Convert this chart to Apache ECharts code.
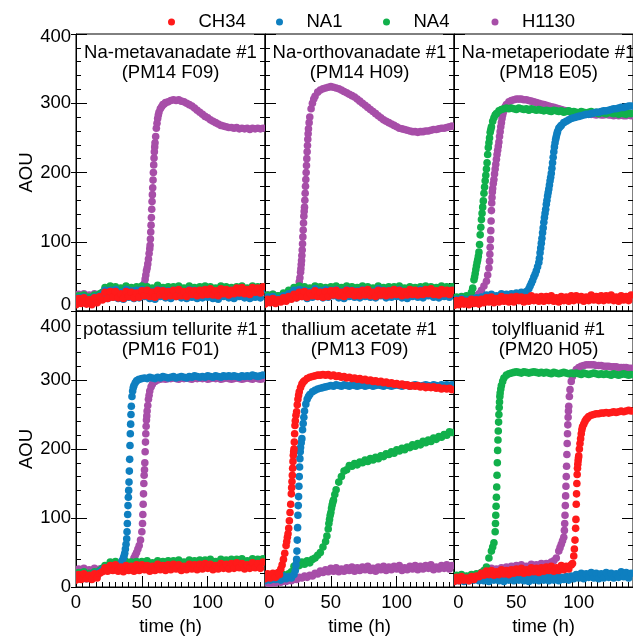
<!DOCTYPE html>
<html>
<head>
<meta charset="utf-8">
<script src="https://cdn.jsdelivr.net/npm/echarts@6/dist/echarts.min.js"></script>
<style>
html, body { margin: 0; padding: 0; background: #fff; }
#chart { width: 633px; height: 637px; }
</style>
</head>
<body>
<div id="chart"></div>
<script>
// Sampling times (h) shared by every curve; steep stretches get extra [t, AOU] readings below.
const hours = [0,2,4,6,8,10,12,14,16,18,20,22,24,26,28,30,32,34,36,38,40,42,44,46,48,50,52,54,56,58,60,62,64,66,68,70,
  72,74,76,78,80,82,84,86,88,90,92,94,96,98,100,102,104,106,108,110,112,114,116,118,120,122,124,126,128,130,132,134,136,138,140,142];

const strainNames = ['CH34', 'NA1', 'NA4', 'H1130'];

// ---- Na-metavanadate #1 (PM14 F09) ----
const metavanadate_CH34 = [9,18,11,19,10,16,9,19,12,21,16,27, 18,28,20,28,19,25,18,28,21,27,19,26,
  20,29,22,30,21,27,20,30,23,29,21,28, 22,30,21,31,22,28,21,30,24,29,22,30,
  23,31,24,32,23,29,22,32,25,31,23,30, 25,33,26,34,25,31,24,34,27,33,26,35];
const metavanadate_NA1 = [10,19,12,20,11,17,10,20,13,22,24,30, 18,30,20,31,18,27,17,31,20,29,18,30,
  19,31,21,30,18,28,17,31,21,30,19,29, 18,30,21,31,19,27,18,31,20,30,18,29,
  19,31,20,30,18,28,17,31,21,30,19,30, 18,31,21,30,19,28,18,31,20,29,19,31];
const metavanadate_NA4 = [14,22,15,23,14,20,13,23,16,25,27,34, 26,36,28,35,27,33,26,36,29,34,27,35,
  27,36,28,35,26,33,27,37,29,34,27,35, 26,35,28,36,27,33,26,36,28,34,27,35,
  27,36,29,35,26,33,27,36,28,35,27,34, 26,35,28,36,27,33,26,36,28,35,27,35];
const metavanadate_H1130 = [18,24,19,25,18,23,19,25,20,24,19,25, 20,26,21,25,20,24,21,26,22,25,21,26,
  24,28,40,62,90,168,243,278,292,298,301,302, 304,305,304,305,303,302,300,298,296,293,290,287,
  284,281,279,276,274,272,270,268,267,266,265,265, 264,265,263,264,263,264,262,264,263,264,263,264];
const metavanadate_H1130_rise = [[51,34],[51.5,38],[52.5,46],[53,52],[53.5,58],[54.5,68],[55,75],[55.5,83],
  [56.25,95],[56.5,104],[56.75,114],[57,124],[57.25,135],[57.5,147],[57.75,158],[58.25,178],[58.5,189],
  [58.75,200],[59,211],[59.25,221],[59.5,230],[59.75,237],[60.5,252],[61,264],[61.5,271],[62.5,283],[63,287],[65,295],[67,299]];

// ---- Na-orthovanadate #1 (PM14 H09) ----
const orthovanadate_CH34 = [10,17,12,18,11,16,13,19,14,21,17,24, 19,27,21,28,20,26,22,29,21,27,20,28,
  21,29,23,30,22,27,21,30,24,29,22,28, 22,30,23,31,22,27,21,30,23,29,22,29,
  23,31,24,30,22,28,23,31,24,30,23,29, 24,31,25,32,24,29,23,31,25,30,24,30];
const orthovanadate_NA1 = [12,20,13,21,12,18,14,22,16,25,22,30, 19,31,21,30,18,28,20,32,21,29,19,31,
  20,30,22,31,19,28,18,31,21,30,20,29, 19,31,21,30,20,28,19,32,22,30,19,30,
  20,30,21,31,19,28,18,30,21,29,20,31, 19,30,22,31,20,28,19,30,21,29,20,30];
const orthovanadate_NA4 = [15,23,16,24,17,22,18,26,22,30,27,34, 27,36,28,35,26,33,27,36,29,35,27,34,
  26,35,28,36,27,34,26,36,28,35,26,34, 27,36,28,35,26,33,27,36,29,34,27,35,
  26,35,28,36,27,33,26,35,28,34,27,35, 27,36,28,35,26,34,27,36,28,35,27,35];
const orthovanadate_H1130 = [17,23,18,24,17,22,18,24,19,23,20,26, 30,42,80,150,230,280,300,310,316,319,321,322,
  323,324,323,322,321,319,317,315,313,311,309,306, 303,300,297,294,291,288,285,282,279,276,274,272,
  270,268,266,264,263,262,261,260,259,259,258,259, 259,260,260,261,262,262,263,264,264,265,266,267];
const orthovanadate_H1130_rise = [[25,34],[26.5,48],[27,56],[27.25,61],[27.5,67],[27.75,73],[28.25,88],[28.5,97],
  [28.75,107],[29,117],[29.25,127],[29.5,137],[29.75,144],[30.25,160],[30.5,170],[30.75,180],[31,190],[31.25,200],
  [31.5,210],[31.75,220],[32.25,239],[32.5,248],[32.75,256],[33,263],[33.5,272],[35,292],[37,306]];

// ---- Na-metaperiodate #1 (PM18 E05) ----
const metaperiodate_CH34 = [8,15,9,16,10,14,9,17,11,16,10,17, 12,19,13,20,12,18,13,21,14,19,13,20,
  13,21,15,20,13,19,14,22,15,20,14,21, 14,21,15,22,14,19,13,21,15,20,14,22,
  15,22,16,21,14,20,15,23,16,21,15,22, 15,22,16,23,15,20,14,22,16,21,15,23];
const metaperiodate_NA1 = [12,17,13,18,12,16,13,18,14,19,15,20, 17,23,18,24,17,22,18,25,19,24,18,25,
  20,26,21,27,22,28,32,40,49,58,70,98, 128,154,176,199,230,252,264,268,272,274,276,278,
  279,280,281,282,283,284,284,285,286,287,287,288, 289,289,290,291,292,292,293,294,294,295,296,296];
const metaperiodate_NA1_rise = [[61,36],[63,44],[65,53],[67,64],[68.5,76],[69,84],[69.5,91],[70.5,105],[71,113],
  [71.5,120],[72.5,135],[73,141],[73.5,147],[74.5,160],[75,166],[75.5,171],[76.5,182],[77,188],[77.5,193],
  [78.5,206],[79,214],[79.5,222],[80.5,237],[81,243],[81.5,248],[82.5,256],[83,259],[85,266]];
const metaperiodate_NA4 = [14,20,15,21,16,22,20,27,45,65,85,132, 170,205,243,266,279,285,289,291,292,293,292,293,
  292,291,293,292,291,292,290,292,291,290,291,290, 289,290,289,288,290,289,288,289,287,288,289,287,
  288,287,286,288,287,286,287,288,286,287,285,287, 286,285,287,286,285,286,284,286,285,284,286,285];
const metaperiodate_NA4_rise = [[15,33],[16.5,49],[17,54],[17.5,60],[18.5,70],[19,74],[19.5,79],[20.5,96],[21,110],
  [21.5,121],[22.5,141],[23,150],[23.5,159],[24.5,179],[25,188],[25.5,196],[26.5,214],[27,226],[27.5,236],
  [28.5,250],[29,258],[29.5,262],[31,274],[33,283]];
const metaperiodate_H1130 = [12,18,13,19,14,18,15,20,18,22,25,30, 36,43,62,145,190,219,244,272,290,298,302,304,
  305,306,306,306,305,305,304,303,302,301,300,299, 298,297,296,295,294,293,292,291,290,289,288,287,
  287,286,286,285,285,284,285,284,284,283,284,283, 283,284,283,283,282,283,282,283,282,282,283,282];
const metaperiodate_H1130_rise = [[27,52],[28.5,72],[28.75,82],[29,92],[29.25,103],[29.5,116],[29.75,130],[30.25,156],
  [30.5,164],[30.75,172],[31,177],[31.5,184],[32.5,198],[33,205],[33.5,212],[34.5,226],[35,232],[35.5,238],
  [36.5,252],[37,259],[37.5,266],[38.5,278],[39,283],[39.5,287],[41,295]];

// ---- potassium tellurite #1 (PM16 F01) ----
const tellurite_CH34 = [10,18,11,19,12,17,11,19,13,20,22,28, 23,31,24,32,23,29,22,31,24,30,23,32,
  24,32,25,31,23,30,24,33,25,31,24,32, 25,33,26,32,24,30,25,33,26,32,25,33,
  26,34,27,33,25,31,26,34,27,33,26,34, 27,35,28,34,26,32,27,35,28,34,27,36];
const tellurite_NA1 = [12,18,13,19,12,17,14,20,16,22,25,28, 26,30,27,31,28,34,42,62,140,262,292,299,
  301,302,303,302,304,303,302,304,303,305,304,303, 304,305,303,304,305,304,303,305,304,306,305,304,
  305,304,306,305,304,306,305,304,306,305,306,305, 306,305,304,306,305,306,305,307,306,305,306,307];
const tellurite_NA1_rise = [[35,38],[36.5,45],[37,49],[37.5,55],[38.5,70],[38.75,80],[39,92],[39.25,105],[39.5,118],
  [39.75,130],[40.25,152],[40.5,168],[40.75,185],[41,205],[41.25,222],[41.5,236],[41.75,250],[42.5,276],
  [43,284],[43.5,289],[45,296],[47,300]];
const tellurite_NA4 = [14,21,15,22,14,20,15,22,17,24,27,31, 28,36,29,37,28,34,29,37,30,36,29,37,
  30,37,31,38,30,35,31,38,32,37,30,38, 31,38,32,39,31,36,32,39,33,38,31,39,
  32,39,33,40,32,37,33,40,34,39,32,40, 33,40,34,41,33,38,34,41,35,40,33,41];
const tellurite_H1130 = [20,26,21,27,20,25,21,27,22,26,25,29, 27,32,28,33,29,32,30,34,33,36,42,50,
  60,80,170,255,284,294,298,300,301,302,301,302, 302,303,302,301,303,302,303,302,301,303,302,303,
  302,303,301,302,303,302,303,301,302,303,302,301, 302,303,302,301,302,303,302,301,303,302,301,302];
const tellurite_H1130_rise = [[45,46],[47,55],[49,68],[50.5,92],[50.75,105],[51,120],[51.25,135],[51.5,150],
  [51.75,162],[52.25,180],[52.5,196],[52.75,210],[53,222],[53.25,233],[53.5,242],[53.75,248],[54.5,263],
  [55,272],[55.5,278],[57,290]];

// ---- thallium acetate #1 (PM13 F09) ----
const thallium_CH34 = [12,19,13,20,14,21,26,40,60,85,135,200, 254,283,294,299,302,304,305,306,307,307,308,307,
  308,306,307,305,306,304,305,303,304,302,303,301, 302,300,301,299,300,298,299,297,298,296,297,295,
  296,294,295,293,294,292,293,291,292,291,292,290, 291,289,290,289,290,288,289,287,288,287,288,286];
const thallium_CH34_rise = [[11,18],[13,32],[15,49],[16.5,66],[17,72],[17.5,77],[18.5,96],[19,108],[19.5,120],
  [20.25,144],[20.5,153],[20.75,162],[21,172],[21.25,182],[21.5,191],[21.75,196],[22.25,210],[22.5,222],
  [22.75,234],[23,241],[23.5,249],[24.5,264],[25,272],[25.5,278],[27,289],[29,297]];
const thallium_NA1 = [9,15,10,16,11,14,10,16,12,15,13,18, 40,160,215,255,272,279,283,285,287,288,289,290,
  291,292,291,293,292,291,293,292,291,293,292,291, 292,293,291,292,293,291,292,293,292,291,293,292,
  291,292,293,292,291,293,292,291,292,293,292,291, 292,293,292,291,293,292,291,293,292,293,292,293];
const thallium_NA1_rise = [[23,24],[23.5,32],[24.25,52],[24.5,68],[24.75,86],[25,104],[25.25,118],[25.5,131],
  [25.75,146],[26.25,174],[26.5,186],[26.75,196],[27,202],[27.5,209],[28.5,228],[29,237],[29.5,246],[31,265],[33,276]];
const thallium_NA4 = [12,17,13,18,12,16,14,18,15,19,22,30, 34,31,36,33,38,35,40,42,46,50,58,66,
  84,108,126,141,152,160,168,170,176,175,179,177, 181,180,184,182,186,184,188,186,190,189,193,192,
  196,194,199,197,201,199,203,202,206,204,208,206, 211,209,213,211,216,214,218,217,221,220,225,224];
const thallium_NA4_rise = [[47,74],[48.5,92],[49,98],[49.5,104],[50.5,114],[51,119],[51.5,123],[53,134]];
const thallium_H1130 = [6,10,5,9,6,10,7,11,8,11,9,12, 11,14,13,16,14,17,16,20,19,23,21,25,
  22,27,23,28,22,26,23,28,24,29,23,28, 24,29,25,30,24,27,23,29,25,30,24,29,
  25,30,26,31,24,28,25,30,26,31,25,30, 26,31,27,32,25,29,26,31,27,32,26,31];

// ---- tolylfluanid #1 (PM20 H05) ----
const tolylfluanid_CH34 = [8,14,9,15,10,13,9,15,11,16,15,20, 17,23,18,24,17,22,18,25,19,24,18,25,
  20,26,21,27,20,25,21,28,22,27,21,28, 23,29,24,30,23,28,24,31,25,30,26,32,
  45,120,190,222,236,243,247,249,250,251,251,252, 252,253,252,253,254,253,254,255,254,255,256,255];
const tolylfluanid_CH34_rise = [[95,34],[96.5,55],[97,68],[97.5,85],[97.75,98],[98.25,135],[98.5,150],[98.75,163],
  [99,172],[99.25,178],[99.5,183],[99.75,187],[100.5,200],[101,208],[101.5,215],[102.5,228],[103,232],[105,240],[107,245]];
const tolylfluanid_NA1 = [8,13,9,14,8,12,9,14,10,13,9,14, 9,14,8,13,10,15,9,13,8,14,10,15,
  9,14,10,15,9,13,8,14,10,15,9,14, 10,15,9,14,10,16,9,14,11,15,10,16,
  12,18,13,20,12,19,14,21,13,20,12,19, 13,21,14,20,13,19,14,22,15,21,13,20];
const tolylfluanid_NA4 = [12,17,13,18,12,16,14,18,15,19,17,21, 24,29,42,52,64,130,250,292,303,307,309,310,
  311,312,311,310,312,311,310,311,312,311,310,311, 310,311,310,309,311,310,309,310,311,310,309,310,
  309,310,309,308,310,309,308,309,310,309,308,309, 308,309,308,307,309,308,307,308,309,308,307,308];
const tolylfluanid_NA4_rise = [[31,58],[33,80],[33.25,92],[33.5,104],[33.75,117],[34.25,145],[34.5,162],[34.75,180],
  [35,198],[35.25,213],[35.5,226],[35.75,239],[36.25,260],[36.5,268],[36.75,276],[37,281],[37.5,287],[39,298]];
const tolylfluanid_H1130 = [10,15,11,16,12,15,13,17,14,18,17,21, 20,26,21,27,22,26,23,28,24,29,25,30,
  26,31,27,32,26,30,27,33,28,32,28,34, 29,34,31,36,38,42,52,62,72,160,262,298,
  310,315,318,320,321,322,322,322,322,321,321,321, 320,320,320,319,319,319,318,318,318,318,317,317];
const tolylfluanid_H1130_rise = [[85,57],[87,67],[88.5,82],[88.75,92],[89,104],[89.25,118],[89.5,132],[89.75,146],
  [90.25,175],[90.5,192],[90.75,208],[91,222],[91.25,235],[91.5,246],[91.75,255],[92.5,276],[93,286],[95,305]];

const panelTitles = [
  ['Na-metavanadate #1', '(PM14 F09)'],
  ['Na-orthovanadate #1', '(PM14 H09)'],
  ['Na-metaperiodate #1', '(PM18 E05)'],
  ['potassium tellurite #1', '(PM16 F01)'],
  ['thallium acetate #1', '(PM13 F09)'],
  ['tolylfluanid #1', '(PM20 H05)']
];

const panelCurves = [
  { CH34: [metavanadate_CH34], NA1: [metavanadate_NA1], NA4: [metavanadate_NA4], H1130: [metavanadate_H1130, metavanadate_H1130_rise] },
  { CH34: [orthovanadate_CH34], NA1: [orthovanadate_NA1], NA4: [orthovanadate_NA4], H1130: [orthovanadate_H1130, orthovanadate_H1130_rise] },
  { CH34: [metaperiodate_CH34], NA1: [metaperiodate_NA1, metaperiodate_NA1_rise], NA4: [metaperiodate_NA4, metaperiodate_NA4_rise], H1130: [metaperiodate_H1130, metaperiodate_H1130_rise] },
  { CH34: [tellurite_CH34], NA1: [tellurite_NA1, tellurite_NA1_rise], NA4: [tellurite_NA4], H1130: [tellurite_H1130, tellurite_H1130_rise] },
  { CH34: [thallium_CH34, thallium_CH34_rise], NA1: [thallium_NA1, thallium_NA1_rise], NA4: [thallium_NA4, thallium_NA4_rise], H1130: [thallium_H1130] },
  { CH34: [tolylfluanid_CH34, tolylfluanid_CH34_rise], NA1: [tolylfluanid_NA1], NA4: [tolylfluanid_NA4, tolylfluanid_NA4_rise], H1130: [tolylfluanid_H1130, tolylfluanid_H1130_rise] }
];

const yTicks = [0, 100, 200, 300, 400];
const xTicks = [0, 50, 100];

// ---- styling / layout ----
const FONT = "'Liberation Sans', Arial, Helvetica, sans-serif";
const FS = 18.5;
const colors = { CH34: '#ff1a1a', NA1: '#0e7fc0', NA4: '#11b04b', H1130: '#a74ea8' };
const drawOrder = ['H1130', 'NA4', 'NA1', 'CH34'];
const legendDotX = [171.5, 279.5, 386.5, 495];
const gridLeft = 76, gridW = 189, rowTop = [34, 311], rowH = [277, 276];
const X_MAX = 143.5;
const DOT_R = 3.8;

function toPoints(values, extra) {
  const pts = hours.map((h, i) => [h, values[i]]);
  return extra ? pts.concat(extra) : pts;
}

const grids = [], xAxes = [], yAxes = [], series = [], titles = [];
const black = { color: '#000', width: 1 };

panelTitles.forEach((tt, i) => {
  const col = i % 3, row = Math.floor(i / 3);
  const left = gridLeft + gridW * col;
  grids.push({ left: left, top: rowTop[row], width: gridW, height: rowH[row],
    show: true, borderColor: '#000', borderWidth: 1, backgroundColor: 'transparent' });

  // x: major ticks + labels
  xAxes.push({
    gridIndex: i, type: 'value', min: 0, max: X_MAX, interval: 50, position: 'bottom',
    axisLine: { show: true, onZero: false, lineStyle: black },
    axisTick: { show: true, inside: true, length: 11, lineStyle: black },
    splitLine: { show: false },
    axisLabel: {
      show: row === 1, showMaxLabel: false, margin: 6, color: '#000', fontSize: FS, fontFamily: FONT,
      formatter: v => xTicks.indexOf(v) < 0 ? '' : (v === 0 && col > 0 ? '{sh|0}' : String(v)),
      rich: { sh: { padding: [0, 0, 0, 9], fontSize: FS, fontFamily: FONT, color: '#000' } }
    },
    name: row === 1 ? 'time (h)' : '', nameLocation: 'middle', nameGap: 30,
    nameTextStyle: { color: '#000', fontSize: FS, fontFamily: FONT }
  });
  // x: minor ticks every 5 h
  xAxes.push({
    gridIndex: i, type: 'value', min: 0, max: X_MAX, interval: 5, position: 'bottom',
    axisLine: { show: false, onZero: false }, axisLabel: { show: false }, splitLine: { show: false },
    axisTick: { show: true, inside: true, length: 5, lineStyle: black }
  });

  const yBase = { gridIndex: i, type: 'value', min: 0, max: 400, interval: 100, splitLine: { show: false } };
  // y left: inside ticks, labels, title
  yAxes.push(Object.assign({}, yBase, {
    position: 'left',
    axisLine: { show: true, onZero: false, lineStyle: black },
    axisTick: { show: true, inside: true, length: 11, lineStyle: black },
    minorTick: { show: true, splitNumber: 5, length: 5, lineStyle: black },
    axisLabel: {
      show: col === 0, margin: 5, color: '#000', fontSize: FS, fontFamily: FONT,
      formatter: v => {
        if (yTicks.indexOf(v) < 0) return '';
        if (row === 0 && v === 0) return '{up|0}';
        if (row === 0 && v === 400) return '{dn3|400}';
        if (row === 1 && v === 400) return '{dn16|400}';
        return String(v);
      },
      rich: {
        up: { padding: [0, 0, 12, 0], fontSize: FS, fontFamily: FONT, color: '#000' },
        dn3: { padding: [5, 0, 0, 0], fontSize: FS, fontFamily: FONT, color: '#000' },
        dn16: { padding: [32, 0, 0, 0], fontSize: FS, fontFamily: FONT, color: '#000' }
      }
    },
    name: col === 0 ? 'AOU' : '', nameLocation: 'middle', nameGap: 28,
    nameTextStyle: { color: '#000', fontSize: FS, fontFamily: FONT }
  }));
  // y left: short outward major ticks
  yAxes.push(Object.assign({}, yBase, {
    position: 'left', axisLine: { show: false, onZero: false }, axisLabel: { show: false },
    axisTick: { show: true, inside: false, length: 5, lineStyle: black }
  }));
  // y right: mirrored inside ticks
  yAxes.push(Object.assign({}, yBase, {
    position: 'right', axisLine: { show: false, onZero: false }, axisLabel: { show: false },
    axisTick: { show: true, inside: true, length: 11, lineStyle: black },
    minorTick: { show: true, splitNumber: 5, length: 5, lineStyle: black }
  }));

  titles.push({
    text: tt.join('\n'), left: left + gridW / 2, top: 43 + (rowTop[row] - 34), textAlign: 'center', padding: 0,
    textStyle: { color: '#000', fontSize: FS, fontWeight: 'normal', fontFamily: FONT, lineHeight: 20 }
  });

  drawOrder.forEach(name => {
    const c = panelCurves[i][name];
    series.push({
      type: 'custom', name: name, coordinateSystem: 'cartesian2d',
      xAxisIndex: 2 * i, yAxisIndex: 3 * i, clip: true, silent: true, animation: false,
      itemStyle: { color: colors[name] },
      encode: { x: 0, y: 1 },
      data: toPoints(c[0], c[1]),
      renderItem: (params, api) => {
        const p = api.coord([api.value(0), api.value(1)]);
        return { type: 'circle', shape: { cx: p[0], cy: p[1], r: DOT_R }, style: { fill: api.visual('color') } };
      }
    });
  });
});

const legends = strainNames.map((n, k) => ({
  data: [{ name: n, icon: 'circle' }], left: legendDotX[k] - 3.5, top: 12,
  itemWidth: 7, itemHeight: 7, padding: 0, itemGap: 0, selectedMode: false,
  textStyle: { color: '#000', fontSize: FS, fontFamily: FONT, lineHeight: 20, padding: [0, 0, 0, 18.5] }
}));

const chart = echarts.init(document.getElementById('chart'), null, { renderer: 'canvas' });
chart.setOption({
  animation: false,
  backgroundColor: '#fff',
  title: titles,
  legend: legends,
  grid: grids,
  xAxis: xAxes,
  yAxis: yAxes,
  series: series
});
</script>
</body>
</html>
